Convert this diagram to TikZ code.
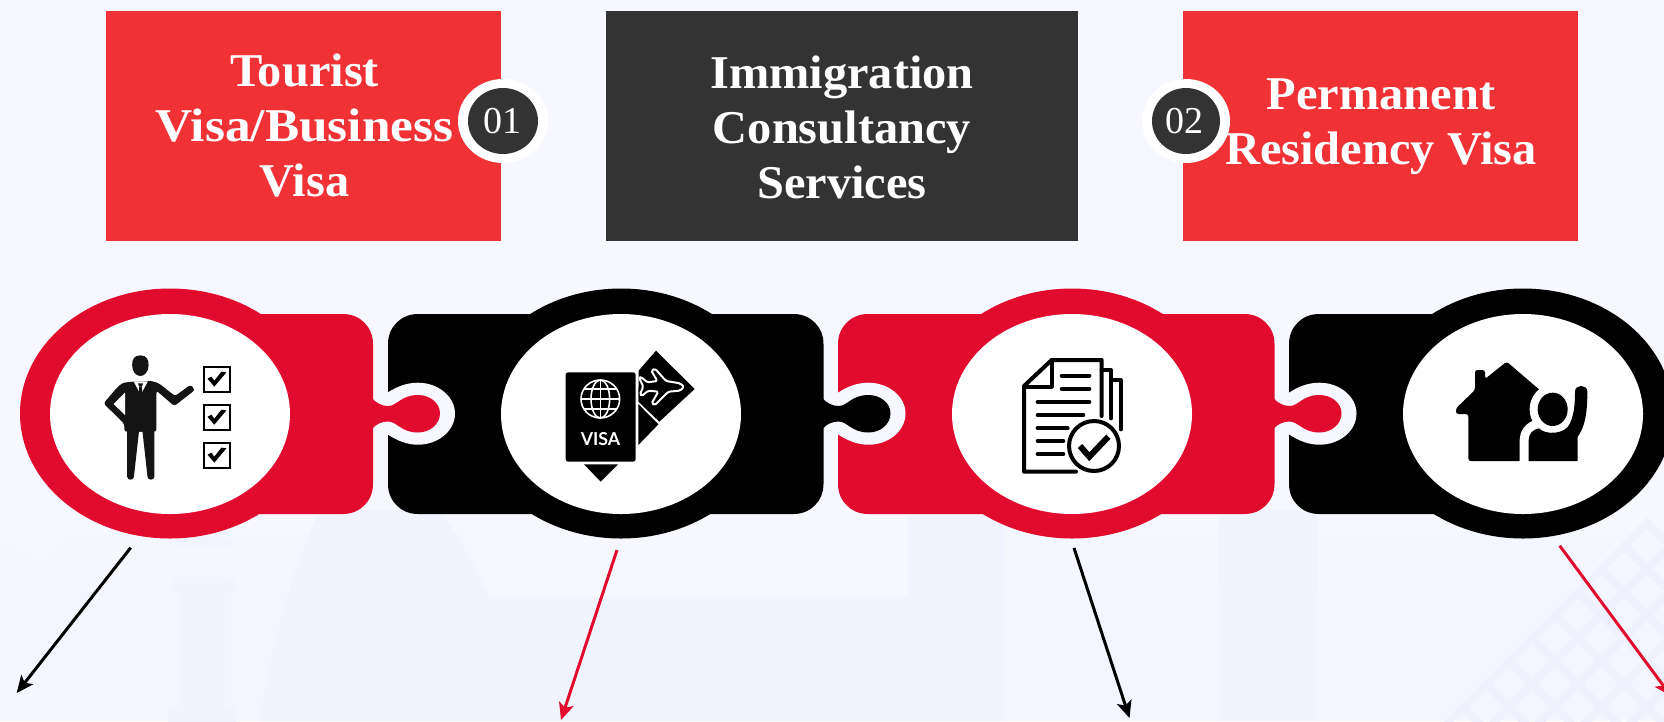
\documentclass[tikz,border=0pt]{standalone}
\usepackage{fontspec}
\usepackage{graphicx}
\setmainfont{Liberation Serif}
\newfontfamily\hdrfont[FakeStretch=1.03]{Liberation Serif}
\newfontfamily\visafont{Lato}
\usetikzlibrary{arrows.meta}
\definecolor{bgtop}{HTML}{F6F7FF}
\definecolor{bglow}{HTML}{F1F4FE}
\definecolor{bgmid}{HTML}{F4F6FF}
\definecolor{bglat}{HTML}{EFF2FC}
\definecolor{hdrred}{HTML}{F03237}
\definecolor{hdrdark}{HTML}{333333}
\definecolor{pzred}{HTML}{E00B2D}
\newcommand{\pzpiece}[4]{% center x, left edge, right edge, colour
  \fill[#4] (#2+30,314) -- (#3-30,314) .. controls (#3-13,314) and (#3,327) .. (#3,344) -- (#3,484) .. controls (#3,501) and (#3-13,514) .. (#3-30,514) -- (#2+30,514) .. controls (#2+13,514) and (#2,501) .. (#2,484) -- (#2,344) .. controls (#2,327) and (#2+13,314) .. (#2+30,314) -- cycle;
  \fill[#4] (#1,413.5) ellipse [x radius=150pt,y radius=125pt];
}
\newcommand{\pzinner}[1]{\fill[white] (#1,414) ellipse [x radius=120pt,y radius=100pt];}
\newcommand{\pzknob}[2]{% x of right edge of the piece, colour
  \fill[bgtop] (#1+14,393) .. controls (#1+23,387) and (#1+33,382.7) .. (#1+45,382.7) .. controls (#1+65,382.7) and (#1+82,396.5) .. (#1+82,413.5) .. controls (#1+82,431) and (#1+65,444.7) .. (#1+45,444.7) .. controls (#1+33,444.7) and (#1+23,440) .. (#1+14,434) -- cycle;
  \fill[#2] (#1-1,398) .. controls (#1+3,403) and (#1+9,406) .. (#1+15,406) .. controls (#1+24,406) and (#1+28,395) .. (#1+45,395) .. controls (#1+57,395) and (#1+67,403) .. (#1+67,413.5) .. controls (#1+67,424) and (#1+57,432.5) .. (#1+45,432.5) .. controls (#1+28,432.5) and (#1+24,421.5) .. (#1+15,421.5) .. controls (#1+9,421.5) and (#1+3,424) .. (#1-1,429) -- cycle;
}
\tikzset{
  hdrtext/.style={text=white,font=\fontsize{47}{55}\selectfont\hdrfont\bfseries,align=center,inner sep=0pt},
  badgetext/.style={text=white,font=\fontsize{38}{38}\selectfont,inner sep=0pt},
  lead/.style={line width=3pt,-{Stealth[length=17pt,width=15pt,inset=4pt]}},
}
\begin{document}
\begin{tikzpicture}[x=1pt,y=-1pt]
\useasboundingbox (0,0) rectangle (1664,721);
\clip (0,0) rectangle (1664,721);
% background
\fill[bgtop] (0,0) rectangle (1664,721);
\shade[top color=bgtop,bottom color=bgmid] (0,500) rectangle (1664,620);
\fill[bgmid] (0,620) rectangle (1664,721);
\fill[bgtop] (0,500) -- (0,537) -- (40,563) -- (83,525) -- (83,500) -- cycle;
\fill[bglow] (260,721) .. controls (275,630) and (295,560) .. (320,510) -- (440,510) .. controls (455,530) and (475,570) .. (490,597) -- (908,597) -- (908,510) -- (1004,510) -- (1004,721) -- cycle;
\fill[bgtop] (457,510) -- (908,510) -- (908,597) -- (490,597) -- cycle;
\fill[bglow] (1219,510) rectangle (1318,721);
% tower
\fill[bglow,rounded corners=4pt] (175,537) rectangle (233,545);
\fill[bglow,rounded corners=6pt] (172,577) rectangle (235,593);
\fill[bglow] (182,590) rectangle (225,712);
\fill[bglow,rounded corners=6pt] (168,706) rectangle (236,730);
% lattice
\begin{scope}
  \clip (1647,518) -- (1710,581) -- (1710,730) -- (1436,730) -- cycle;
  \foreach \k in {0,...,12}{
    \draw[bglat,line width=8pt] (1800,2170+46*\k-1800) -- (1300,2170+46*\k-1300);
    \draw[bglat,line width=8pt] (1300,1300-1124+46*\k) -- (1800,1800-1124+46*\k);
  }
\end{scope}
% header boxes
\node[fill=hdrred,minimum width=395pt,minimum height=230pt,inner sep=0pt,anchor=north west] (boxa) at (106,11) {};
\node[fill=hdrdark,minimum width=472pt,minimum height=230pt,inner sep=0pt,anchor=north west] (boxb) at (606,11) {};
\node[fill=hdrred,minimum width=395pt,minimum height=230pt,inner sep=0pt,anchor=north west] (boxc) at (1183,11) {};
\node[hdrtext] (ta) at (304.5,126) {Tourist\\\scalebox{1.06}[1]{Visa/Business}\\Visa};
\node[hdrtext] (tb) at (842,127) {Immigration\\Consultancy\\Services};
\node[hdrtext] (tc) at (1381,127) {Permanent\\Residency Visa};
% badges
\fill[white] (503,121) ellipse [x radius=45pt,y radius=42pt];
\fill[hdrdark] (503,121) ellipse [x radius=35pt,y radius=33pt];
\node[badgetext] (b1) at (502,121) {01};
\fill[white] (1186,121) ellipse [x radius=44pt,y radius=42pt];
\fill[hdrdark] (1186,121) ellipse [x radius=34pt,y radius=33pt];
\node[badgetext] (b2) at (1184.5,121) {02};
% puzzle pieces
\pzpiece{170}{100}{373}{pzred}
\pzpiece{621}{388}{823.5}{black}
\pzpiece{1072}{838}{1274.5}{pzred}
\pzpiece{1523}{1289}{1600}{black}
\pzknob{373}{pzred}
\pzknob{823.5}{black}
\pzknob{1274.5}{pzred}
\pzinner{170}\pzinner{621}\pzinner{1072}\pzinner{1523}
% person icon
\begin{scope}[x=0.35714pt,y=-0.33333pt,shift={(0pt,-270pt)},line join=round,line cap=round]
  \fill[black!92] (393,256) .. controls (412,256) and (416,270) .. (416,285) .. controls (416,305) and (405,318) .. (393,318) .. controls (381,318) and (370,305) .. (370,285) .. controls (370,270) and (374,256) .. (393,256) -- cycle;
  \fill[black!92,rounded corners=2.5pt] (372,335) -- (345,338) -- (330,350) -- (290,400) -- (348,462) -- (348,485) -- (438,485) -- (438,362) -- (488,408) -- (546,360) -- (534,344) -- (490,378) -- (445,340) -- (425,333) -- cycle;
  \fill[white] (350,368) -- (318,402) -- (350,435) -- cycle;
  \fill[black!92] (356,480) -- (356,620) .. controls (356,632) and (375,632) .. (375,620) -- (389,485) -- (399,485) -- (413,620) .. controls (413,632) and (432,632) .. (432,620) -- (432,480) -- cycle;
  \fill[white] (374,334) -- (414,334) -- (394,374) -- cycle;
  \fill[black!92] (386,340) -- (401,340) -- (397,350) -- (390,350) -- cycle;
  \fill[black!92] (390,350) -- (397,350) -- (399,368) -- (394,376) -- (388,368) -- cycle;
  \foreach \yy in {290,404,518}{
    \draw[black,line width=2.2pt,line cap=butt,line join=miter] (571,\yy+1) rectangle (645,\yy+75);
    \fill[black] (581,\yy+36) -- (592,\yy+30) -- (600,\yy+42) -- (620,\yy+15) -- (634,\yy+17) -- (600,\yy+60) -- cycle;
  }
\end{scope}
% passport icon
\begin{scope}[x=0.33333pt,y=-0.33333pt,shift={(540pt,-320pt)},line join=round]
  \fill[black] (296,152) -- (348,92) -- (464,207) -- (358,305) -- (295,245) -- cycle;
  \fill[black] (295,252) -- (355,313) -- (295,375) -- cycle;
  \draw[white,line width=2pt,fill=black,rounded corners=1.5pt] (432,200) -- (420,190) -- (378,183) -- (345,146) -- (334,152) -- (352,183) -- (322,187) -- (302,170) -- (298,175) -- (310,200) -- (300,222) -- (305,228) -- (325,212) -- (355,215) -- (335,250) -- (345,255) -- (385,215) -- (420,212) -- cycle;
  \fill[black,rounded corners=2.5pt] (77,157) rectangle (287,425);
  \begin{scope}[white,line width=1.6pt]
    \draw (181,237) circle [x radius=58,y radius=57];
    \draw (181,237) ellipse [x radius=28,y radius=57];
    \draw (181,179) -- (181,295);
    \draw (122,237) -- (240,237);
    \draw (131,207) -- (231,207);
    \draw (131,267) -- (231,267);
  \end{scope}
  \fill[black] (132,433) -- (234,433) -- (182,485) -- cycle;
\end{scope}
\node[text=white,font=\visafont\bfseries\fontsize{17.8}{18}\selectfont,inner sep=0pt] (visa) at (600.5,439.5) {VISA};
% document icon
\begin{scope}[x=0.33333pt,y=-0.33333pt,shift={(1000pt,-340pt)},line join=round,line cap=round]
  \begin{scope}[black,line width=4pt]
    \draw (228,395) -- (72,395) -- (72,138) -- (155,60) -- (305,60) -- (305,228);
    \draw (155,60) -- (155,140) -- (72,140);
    \draw (305,90) -- (333,90) -- (333,235);
    \draw (335,120) -- (362,120) -- (362,268);
    \draw (185,107) -- (268,107);
    \draw (185,147) -- (268,147);
    \draw (113,186) -- (268,186);
    \draw (113,225) -- (250,225);
    \draw (113,264) -- (203,264);
    \draw (113,303) -- (190,303);
    \draw (113,342) -- (190,342);
    \draw[fill=white] (282,318) circle [x radius=75,y radius=75];
    \draw[line width=6pt,line cap=butt,line join=miter] (240,318) -- (268,350) -- (325,290);
  \end{scope}
\end{scope}
% house icon
\begin{scope}[x=0.33333pt,y=-0.33333pt,shift={(1240pt,-280pt)},line join=round]
  \fill[black,rounded corners=2.5pt] (648,402) -- (648,385) -- (705,330) -- (705,270) -- (735,270) -- (735,297) -- (800,245) -- (905,335) -- (905,543) -- (685,543) -- (685,402) -- cycle;
  \def\hbody{(866,543) -- (866,480) .. controls (866,460) and (880,448) .. (897,445) .. controls (915,465) and (975,465) .. (990,430) .. controls (1003,400) and (1005,370) .. (1005,335) .. controls (1005,312) and (1042,312) .. (1042,335) .. controls (1042,400) and (1035,440) .. (1013,470) -- (1013,543) -- cycle}
  \draw[white,line width=18pt] \hbody;
  \draw[white,line width=16pt] (938,388) ellipse [x radius=45,y radius=50];
  \fill[black] \hbody;
  \fill[black] (938,388) ellipse [x radius=45,y radius=50];
\end{scope}
% arrows
\coordinate (a1s) at (130.7,547.7); \coordinate (a1e) at (16.7,693);
\coordinate (a2s) at (617,550);   \coordinate (a2e) at (561,720);
\coordinate (a3s) at (1074,548);  \coordinate (a3e) at (1129.5,718);
\coordinate (a4s) at (1559.7,545.7);  \coordinate (a4e) at (1671,696);
\draw[lead,black] (a1s) -- (a1e);
\draw[lead,pzred] (a2s) -- (a2e);
\draw[lead,black] (a3s) -- (a3e);
\draw[lead,pzred] (a4s) -- (a4e);
\end{tikzpicture}
\end{document}
